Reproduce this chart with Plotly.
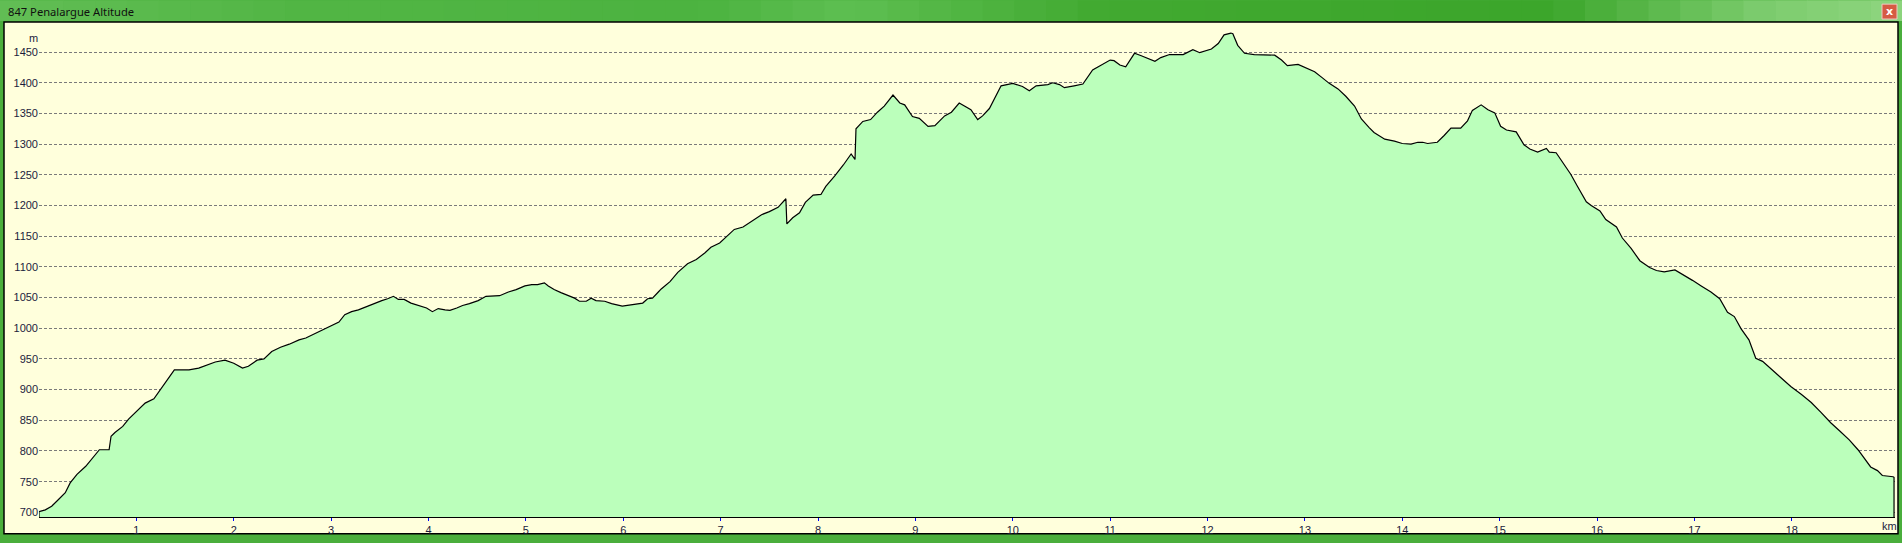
import plotly.graph_objects as go

# ---- data (distance in km, altitude in m) ----
km = [0.00, 0.065, 0.13, 0.20, 0.27, 0.32, 0.39, 0.48, 0.56, 0.62, 0.72, 0.74, 0.78, 0.86, 0.92,
      1.02, 1.09, 1.18, 1.23, 1.28, 1.33, 1.39, 1.47, 1.54, 1.64, 1.73, 1.81, 1.91, 2.00, 2.09,
      2.15, 2.24, 2.31, 2.39, 2.48, 2.57, 2.67, 2.74, 2.82, 2.91, 2.99, 3.08,
      3.14, 3.21, 3.28, 3.34, 3.43, 3.52, 3.58, 3.64, 3.69, 3.75, 3.82, 3.91, 3.98, 4.04, 4.10,
      4.17, 4.22, 4.29, 4.35, 4.42, 4.51, 4.59, 4.66, 4.73, 4.82, 4.90, 4.99, 5.06, 5.12, 5.19,
      5.23, 5.29, 5.36, 5.43, 5.50, 5.55, 5.62, 5.67, 5.72, 5.81, 5.88, 5.99, 6.08, 6.20, 6.25,
      6.30, 6.36,
      6.39, 6.48, 6.56, 6.66, 6.75, 6.84, 6.90, 6.99, 7.06, 7.14, 7.23, 7.31, 7.42, 7.50, 7.59,
      7.67, 7.68, 7.74, 7.81, 7.87, 7.95, 8.03, 8.08, 8.17, 8.26, 8.34, 8.38, 8.39, 8.46, 8.54,
      8.61, 8.68, 8.77, 8.84, 8.89, 8.97, 9.04, 9.13, 9.20, 9.30, 9.37, 9.45, 9.52,
      9.57, 9.64, 9.69, 9.76, 9.83, 9.88, 10.00, 10.10, 10.17, 10.24, 10.36, 10.41, 10.48, 10.53,
      10.63, 10.72, 10.82, 10.93, 11.00, 11.04, 11.10, 11.16, 11.25, 11.32, 11.46, 11.52, 11.61,
      11.75, 11.85, 11.92, 12.04, 12.11, 12.17, 12.24, 12.26, 12.31, 12.38, 12.48, 12.69,
      12.76, 12.82, 12.93, 13.00, 13.10, 13.18, 13.25, 13.34, 13.42, 13.51, 13.58, 13.66, 13.71,
      13.82, 13.92, 14.00, 14.09, 14.16, 14.21, 14.26, 14.36, 14.43, 14.50, 14.60, 14.67, 14.72,
      14.81, 14.88, 14.95, 15.01, 15.07, 15.17, 15.25, 15.31, 15.39, 15.48, 15.51, 15.58, 15.67,
      15.73, 15.80, 15.89,
      15.94, 16.03, 16.09, 16.20, 16.26, 16.35, 16.44, 16.54, 16.61, 16.69, 16.80, 16.88, 16.98,
      17.07, 17.17, 17.26, 17.34, 17.41, 17.48, 17.56, 17.63, 17.70, 17.79, 17.89, 17.99, 18.10,
      18.20, 18.30, 18.40, 18.49, 18.59, 18.68, 18.76, 18.81, 18.88, 18.93, 19.04, 19.05]

altitude = [701, 704, 710, 721, 732, 748, 762, 775, 791, 802, 802, 824, 830, 840, 852,
            867, 878, 885, 896, 909, 918, 932, 932, 932, 935, 940, 945, 948, 943, 935,
            938, 948, 950, 962, 969, 974, 981, 984, 990, 997, 1004, 1010,
            1022, 1027, 1030, 1034, 1040, 1045, 1048, 1052, 1047, 1047, 1041, 1037, 1033, 1027, 1032,
            1030, 1029, 1033, 1037, 1040, 1045, 1052, 1053, 1053, 1059, 1063, 1069, 1071, 1071, 1074,
            1069, 1063, 1058, 1053, 1049, 1044, 1044, 1049, 1045, 1044, 1040, 1036, 1038, 1041, 1048,
            1049, 1059,
            1064, 1076, 1091, 1105, 1112, 1123, 1132, 1139, 1150, 1161, 1165, 1174, 1185, 1190, 1197,
            1211, 1170, 1180, 1188, 1205, 1217, 1218, 1231, 1248, 1266, 1284, 1275, 1325, 1337, 1340,
            1352, 1362, 1380, 1367, 1364, 1345, 1342, 1329, 1330, 1346, 1352, 1367, 1361,
            1356, 1340, 1346, 1358, 1381, 1395, 1399, 1394, 1387, 1395, 1397, 1400, 1397, 1392,
            1395, 1398, 1421, 1430, 1437, 1436, 1429, 1426, 1448, 1444, 1435, 1441, 1446,
            1446, 1454, 1449, 1455, 1464, 1478, 1481, 1480, 1461, 1448, 1446, 1445,
            1437, 1428, 1430, 1425, 1418, 1408, 1399, 1390, 1378, 1362, 1341, 1327, 1319,
            1308, 1305, 1301, 1300, 1303, 1303, 1301, 1303, 1314, 1326, 1326, 1338, 1355,
            1364, 1356, 1351, 1329, 1323, 1320, 1299, 1292, 1287, 1293, 1287, 1286, 1266,
            1251, 1231, 1206,
            1200, 1191, 1177, 1165, 1147, 1130, 1110, 1099, 1094, 1092, 1095, 1088, 1078,
            1069, 1059, 1048, 1026, 1019, 999, 981, 951, 946, 933, 918, 905, 892,
            879, 863, 846, 833, 818, 802, 784, 774, 768, 760, 758, 757]

y_ticks = [700, 750, 800, 850, 900, 950, 1000, 1050, 1100, 1150, 1200, 1250, 1300, 1350, 1400, 1450]
x_ticks = list(range(1, 19))

TITLE = "847 Penalargue Altitude"

# ---- layout geometry ----
W, H = 1902, 543
L, R, T, B = 39, 7, 22, 22
PW, PH = W - L - R, H - T - B
X_RANGE = [0, 19.06]
Y_RANGE = [692.4, 1499.0]


def px_x(p):
    return (p - L) / PW


def px_y(p):
    return (H - B - p) / PH


YELLOW = "#FFFFDC"
FILL = "#BBFFBB"
GRID = "#7a7a7a"
LABEL = "#1c1c3c"

# closed polygon for the area (baseline at bottom of the value axis)
poly_x = [km[0]] + km + [km[-1]]
poly_y = [Y_RANGE[0]] + altitude + [Y_RANGE[0]]

fig = go.Figure()
fig.add_trace(go.Scatter(
    x=poly_x, y=poly_y, mode="lines", fill="toself", fillcolor=FILL,
    line=dict(color="black", width=1.2), hoverinfo="skip", showlegend=False,
))

shapes = []
# title bar gradient
stops = [(0, (0x62, 0xbe, 0x55)), (300, (0x52, 0xb6, 0x45)), (700, (0x4c, 0xb3, 0x40)),
         (850, (0x5e, 0xbf, 0x52)), (1100, (0x42, 0xaa, 0x31)), (1550, (0x3c, 0xa6, 0x2b)),
         (1760, (0x7c, 0xcc, 0x6e)), (1902, (0x8f, 0xd6, 0x80))]
n = 60
for i in range(n):
    x0 = W * i / n
    x1 = W * (i + 1) / n
    xm = (x0 + x1) / 2
    for j in range(len(stops) - 1):
        if stops[j][0] <= xm <= stops[j + 1][0]:
            t = (xm - stops[j][0]) / (stops[j + 1][0] - stops[j][0])
            c = tuple(int(stops[j][1][k] + t * (stops[j + 1][1][k] - stops[j][1][k])) for k in range(3))
            break
    shapes.append(dict(type="rect", xref="paper", yref="paper", layer="below",
                       x0=px_x(x0), x1=px_x(x1 + 0.5), y0=px_y(21), y1=px_y(0),
                       fillcolor="rgb(%d,%d,%d)" % c, line=dict(width=0)))
# inner panel
shapes.append(dict(type="rect", xref="paper", yref="paper", layer="below",
                   x0=px_x(4), x1=px_x(1898), y0=px_y(538), y1=px_y(22),
                   fillcolor=YELLOW, line=dict(color="black", width=1.5)))
# close button
shapes.append(dict(type="rect", xref="paper", yref="paper", layer="above",
                   x0=px_x(1882), x1=px_x(1897), y0=px_y(19), y1=px_y(4),
                   fillcolor="#d65a44", line=dict(color="#f0c8c0", width=1)))

annotations = [
    dict(text=TITLE, xref="paper", yref="paper", x=px_x(6), y=px_y(11), xanchor="left",
         yanchor="middle", showarrow=False, font=dict(family="Noto Sans", size=11.2, color="#101010")),
    dict(text="m", xref="paper", yref="paper", x=px_x(33), y=px_y(38), xanchor="center",
         yanchor="middle", showarrow=False, font=dict(family="Liberation Sans", size=11, color=LABEL)),
    dict(text="km", xref="paper", yref="paper", x=px_x(1889), y=px_y(530), xanchor="center",
         yanchor="middle", showarrow=False, font=dict(family="Liberation Sans", size=11, color=LABEL)),
    dict(text="<b>x</b>", xref="paper", yref="paper", x=px_x(1889.5), y=px_y(11), xanchor="center",
         yanchor="middle", showarrow=False, font=dict(family="DejaVu Sans", size=11, color="white")),
]

fig.update_layout(
    width=W, height=H, autosize=False,
    margin=dict(l=L, r=R, t=T, b=B, pad=0),
    paper_bgcolor="#4aae3c",
    plot_bgcolor="rgba(0,0,0,0)",
    shapes=shapes,
    annotations=annotations,
    showlegend=False,
    xaxis=dict(range=X_RANGE, tickvals=x_ticks, ticktext=[str(v) for v in x_ticks],
               showgrid=False, zeroline=False, showline=True, linecolor="black", linewidth=1,
               ticks="outside", ticklen=3, tickcolor="#0000ff", tickwidth=1,
               tickfont=dict(family="Liberation Sans", size=11, color=LABEL), fixedrange=True),
    yaxis=dict(range=Y_RANGE, tickvals=y_ticks, ticktext=[str(v) for v in y_ticks],
               showgrid=True, gridcolor=GRID, gridwidth=1, griddash="3px,2px",
               zeroline=False, showline=False, ticks="",
               tickfont=dict(family="Liberation Sans", size=11, color=LABEL), fixedrange=True),
)

fig.write_html("out.html", config={"displayModeBar": False},
               post_script="document.body.style.margin='0';document.body.style.overflow='hidden';")
